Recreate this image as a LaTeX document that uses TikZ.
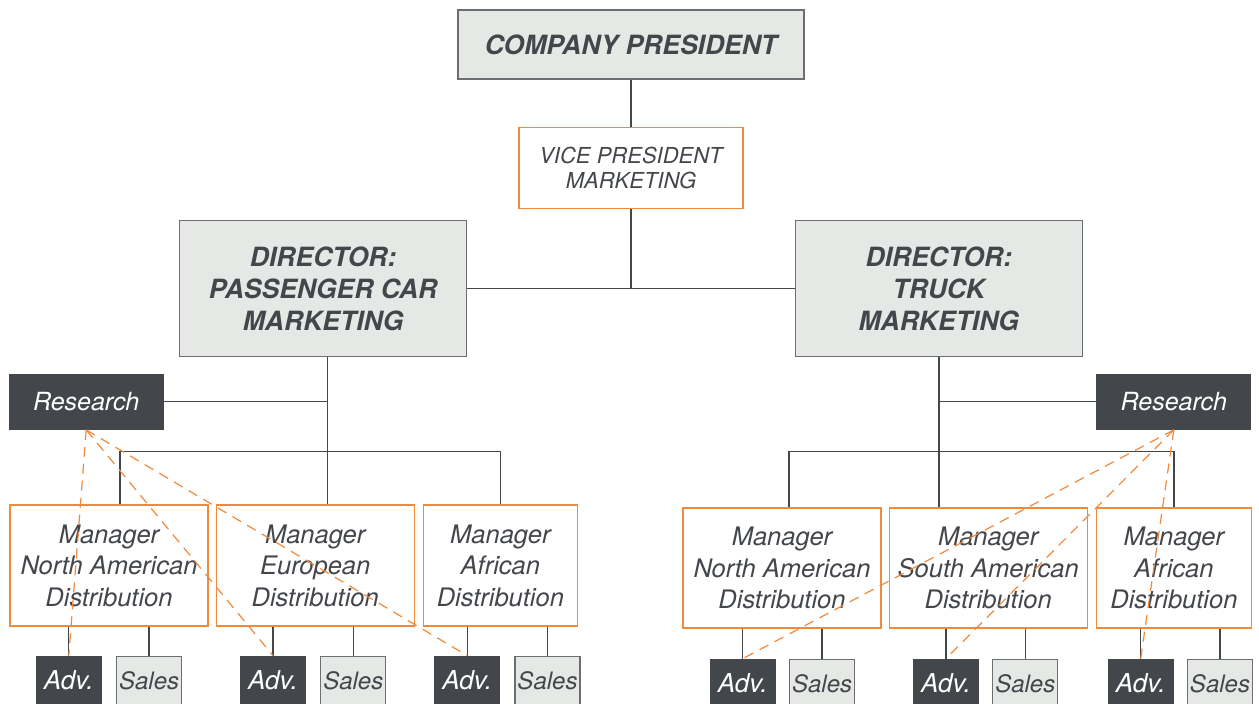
\documentclass[tikz,border=0pt]{standalone}
\usepackage{fontspec}
\setmainfont{TeX Gyre Heros}
\usetikzlibrary{positioning}
\definecolor{ink}{HTML}{43464B}
\definecolor{pale}{HTML}{E6E8E5}
\definecolor{rim}{HTML}{6B6F73}
\definecolor{accent}{HTML}{F0893A}

\begin{document}
\begin{tikzpicture}[x=1pt,y=1pt,
    every node/.style={inner sep=0pt,align=center,text=ink},
    topbox/.style={draw=rim,line width=1.5pt,fill=pale,font=\fontsize{26.5}{30}\selectfont\bfseries\itshape},
    vpbox/.style={draw=accent,line width=1.2pt,fill=white,minimum width=224pt,minimum height=81pt,font=\fontsize{22}{25}\selectfont\itshape},
    director/.style={topbox,minimum width=287pt,minimum height=136pt,font=\fontsize{26.5}{32}\selectfont\bfseries\itshape},
    research/.style={fill=ink,text=white,minimum width=155pt,minimum height=56pt,font=\fontsize{25}{28}\selectfont\itshape},
    manager/.style={draw=accent,line width=1.2pt,minimum width=198pt,minimum height=121pt,font=\fontsize{25.5}{31.5}\selectfont\itshape},
    advbox/.style={fill=ink,text=white,minimum width=66pt,minimum height=49pt,font=\fontsize{26}{28}\selectfont\itshape},
    salesbox/.style={draw=rim,line width=1.2pt,fill=pale,minimum width=65pt,minimum height=48pt,font=\fontsize{24}{28}\selectfont\itshape},
    link/.style={draw=ink,line width=1.3pt},
    relation/.style={draw=accent,line width=1.2pt,dash pattern=on 10pt off 7pt}]
    \useasboundingbox (0,0) rectangle (1259,-704);

    \node (pres) [topbox,minimum width=346pt,minimum height=69pt] at (631,-44.5) {COMPANY PRESIDENT};
    \node (vp) [vpbox,below=47pt of pres] {VICE PRESIDENT\\MARKETING};
    \node (carmkt) [director,below left=11pt and 51pt of vp] {DIRECTOR:\\PASSENGER CAR\\MARKETING};
    \node (truckmkt) [director,below right=11pt and 51pt of vp] {DIRECTOR:\\TRUCK\\MARKETING};
    \node (carres) [research,below left=16pt and 15pt of carmkt] {Research};
    \node (truckres) [research,below right=16pt and 13pt of truckmkt] {Research};

    \node (carna) [manager] at (109,-565.5) {Manager\\North American\\Distribution};
    \node (careu) [manager,right=7pt of carna] {Manager\\European\\Distribution};
    \node (caraf) [manager,minimum width=154pt,right=8pt of careu] {Manager\\African\\Distribution};
    \node (truckna) [manager,minimum height=120pt] at (782,-568) {Manager\\North American\\Distribution};
    \node (trucksa) [manager,minimum height=120pt,right=7pt of truckna] {Manager\\South American\\Distribution};
    \node (truckaf) [manager,minimum height=120pt,minimum width=155pt,right=8pt of trucksa] {Manager\\African\\Distribution};

    \node (advcarna) [advbox,below left=29pt and 7pt of carna.south] {Adv.};
    \node (salescarna) [salesbox,right=14pt of advcarna] {Sales};
    \node (advcareu) [advbox,below left=29pt and 9pt of careu.south] {Adv.};
    \node (salescareu) [salesbox,right=14pt of advcareu] {Sales};
    \node (advcaraf) [advbox,below left=29pt and 0pt of caraf.south] {Adv.};
    \node (salescaraf) [salesbox,right=14pt of advcaraf] {Sales};
    \node (advtruckna) [advbox,below left=30pt and 6pt of truckna.south] {Adv.};
    \node (salestruckna) [salesbox,right=13pt of advtruckna] {Sales};
    \node (advtrucksa) [advbox,below left=30pt and 9pt of trucksa.south] {Adv.};
    \node (salestrucksa) [salesbox,right=13pt of advtrucksa] {Sales};
    \node (advtruckaf) [advbox,below left=30pt and 0pt of truckaf.south] {Adv.};
    \node (salestruckaf) [salesbox,right=13pt of advtruckaf] {Sales};

    \draw[link]
      (pres) edge (vp)
      (vp.south) edge (vp.south |- carmkt.east)
      (carmkt.east) edge (truckmkt.west)
      ([xshift=4pt]carmkt.south) edge ([xshift=4pt]carmkt.south |- careu.north)
      (carres.east) edge ([xshift=4pt]carres.east -| carmkt.south)
      (truckmkt.south) edge (truckmkt.south |- trucksa.north)
      (truckres.west) edge (truckres.west -| truckmkt.south)
    ;
    \draw[link] ([xshift=11pt]carna.north) |- ([yshift=53pt]careu.north) -| (caraf.north);
    \draw[link] ([xshift=7pt]truckna.north) |- ([yshift=56pt]trucksa.north) -| (truckaf.north);

    \draw[link]
      (advcarna.north |- carna.south) edge (advcarna)
      (salescarna.north |- carna.south) edge (salescarna)
      (advcareu.north |- careu.south) edge (advcareu)
      (salescareu.north |- careu.south) edge (salescareu)
      (advcaraf.north |- caraf.south) edge (advcaraf)
      (salescaraf.north |- caraf.south) edge (salescaraf)
      (advtruckna.north |- truckna.south) edge (advtruckna)
      (salestruckna.north |- truckna.south) edge (salestruckna)
      (advtrucksa.north |- trucksa.south) edge (advtrucksa)
      (salestrucksa.north |- trucksa.south) edge (salestrucksa)
      (advtruckaf.north |- truckaf.south) edge (advtruckaf)
      (salestruckaf.north |- truckaf.south) edge (salestruckaf)
    ;

    \draw[relation]
      (carres.south) edge (advcarna.north)
      (carres.south) edge (advcareu.north)
      (carres.south) edge (advcaraf.north)
      (truckres.south) edge (advtruckna.north)
      (truckres.south) edge (advtrucksa.north)
      (truckres.south) edge (advtruckaf.north)
    ;
\end{tikzpicture}
\end{document}
